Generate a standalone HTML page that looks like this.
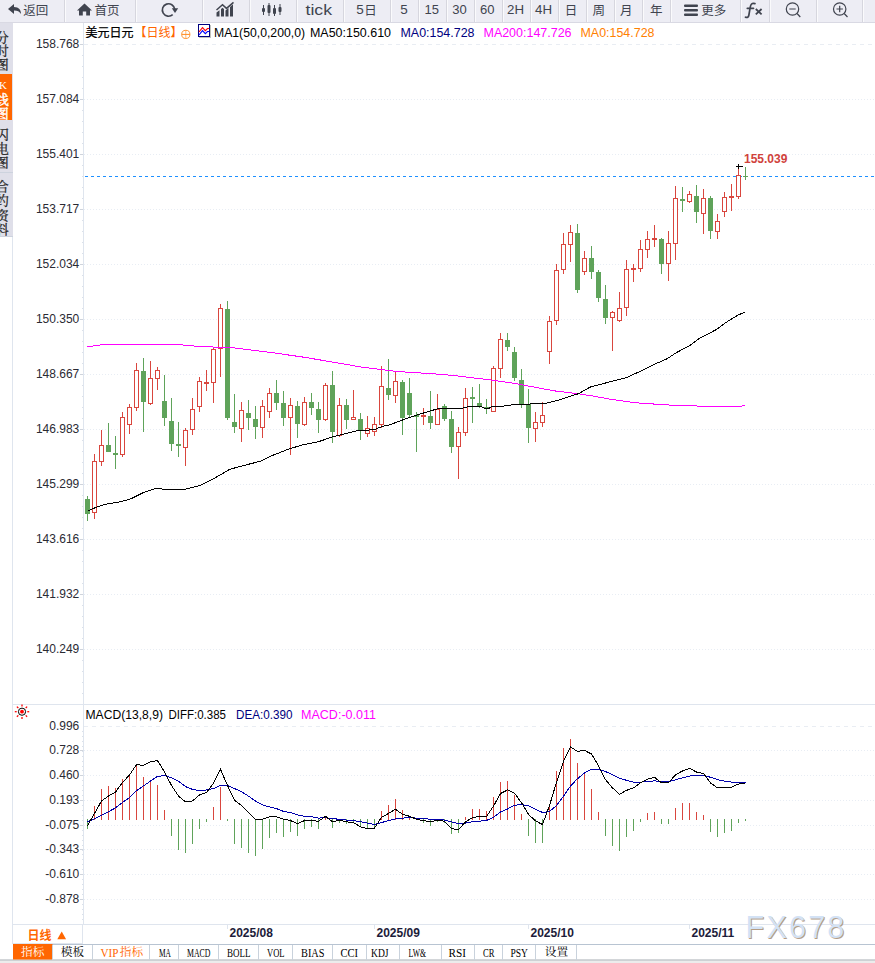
<!DOCTYPE html>
<html><head><meta charset="utf-8"><title>USDJPY</title>
<style>
html,body{margin:0;padding:0;background:#fff;}
body{width:875px;height:963px;overflow:hidden;font-family:"Liberation Sans",sans-serif;}
svg{display:block;position:absolute;left:0;top:0;}
text{font-family:"Liberation Sans",sans-serif;}
.ax{font-size:12px;fill:#2a2a33;}
.lg{font-size:12.5px;}
.hi{font-size:12px;font-weight:bold;fill:#d0423c;}
.dt{font-size:12px;font-weight:bold;fill:#1c1c3a;}
.wm{font-size:30.5px;letter-spacing:2.2px;}
.tb{font-family:"Liberation Serif",serif;font-size:13px;}
.kk{font-family:"Liberation Serif",serif;font-size:11px;}
.tl{font-family:"Liberation Sans",sans-serif;}
.cj{font-family:"Liberation Sans","Noto Sans CJK SC",sans-serif;}
.cs{font-family:"Liberation Serif","Noto Serif CJK SC",serif;}
</style></head>
<body>
<svg width="875" height="963" viewBox="0 0 875 963">
<defs><clipPath id="sbc"><rect x="0" y="22" width="12" height="215"/></clipPath></defs>
<line x1="84" x2="875" y1="44.5" y2="44.5" stroke="#e9edf3" stroke-dasharray="4 4" shape-rendering="crispEdges"/>
<text x="79.3" y="48" text-anchor="end" class="ax">158.768</text>
<line x1="84" x2="875" y1="99.5" y2="99.5" stroke="#e8edf4" stroke-dasharray="1 2" shape-rendering="crispEdges"/>
<text x="79.3" y="103" text-anchor="end" class="ax">157.084</text>
<line x1="84" x2="875" y1="154.5" y2="154.5" stroke="#e8edf4" stroke-dasharray="1 2" shape-rendering="crispEdges"/>
<text x="79.3" y="158" text-anchor="end" class="ax">155.401</text>
<line x1="84" x2="875" y1="209.5" y2="209.5" stroke="#e8edf4" stroke-dasharray="1 2" shape-rendering="crispEdges"/>
<text x="79.3" y="213" text-anchor="end" class="ax">153.717</text>
<line x1="84" x2="875" y1="264.5" y2="264.5" stroke="#e8edf4" stroke-dasharray="1 2" shape-rendering="crispEdges"/>
<text x="79.3" y="268" text-anchor="end" class="ax">152.034</text>
<line x1="84" x2="875" y1="319.5" y2="319.5" stroke="#e8edf4" stroke-dasharray="1 2" shape-rendering="crispEdges"/>
<text x="79.3" y="323" text-anchor="end" class="ax">150.350</text>
<line x1="84" x2="875" y1="374.5" y2="374.5" stroke="#e8edf4" stroke-dasharray="1 2" shape-rendering="crispEdges"/>
<text x="79.3" y="378" text-anchor="end" class="ax">148.667</text>
<line x1="84" x2="875" y1="429.5" y2="429.5" stroke="#e8edf4" stroke-dasharray="1 2" shape-rendering="crispEdges"/>
<text x="79.3" y="433" text-anchor="end" class="ax">146.983</text>
<line x1="84" x2="875" y1="484.5" y2="484.5" stroke="#e8edf4" stroke-dasharray="1 2" shape-rendering="crispEdges"/>
<text x="79.3" y="488" text-anchor="end" class="ax">145.299</text>
<line x1="84" x2="875" y1="539.5" y2="539.5" stroke="#e8edf4" stroke-dasharray="1 2" shape-rendering="crispEdges"/>
<text x="79.3" y="543" text-anchor="end" class="ax">143.616</text>
<line x1="84" x2="875" y1="594.5" y2="594.5" stroke="#e8edf4" stroke-dasharray="1 2" shape-rendering="crispEdges"/>
<text x="79.3" y="598" text-anchor="end" class="ax">141.932</text>
<line x1="84" x2="875" y1="649.5" y2="649.5" stroke="#e8edf4" stroke-dasharray="1 2" shape-rendering="crispEdges"/>
<text x="79.3" y="653" text-anchor="end" class="ax">140.249</text>
<line x1="80" x2="83" y1="44.5" y2="44.5" stroke="#cfd4dc" shape-rendering="crispEdges"/>
<line x1="82" x2="83" y1="55.5" y2="55.5" stroke="#dbe1ea" shape-rendering="crispEdges"/>
<line x1="82" x2="83" y1="66.5" y2="66.5" stroke="#dbe1ea" shape-rendering="crispEdges"/>
<line x1="82" x2="83" y1="77.5" y2="77.5" stroke="#dbe1ea" shape-rendering="crispEdges"/>
<line x1="82" x2="83" y1="88.5" y2="88.5" stroke="#dbe1ea" shape-rendering="crispEdges"/>
<line x1="80" x2="83" y1="99.5" y2="99.5" stroke="#cfd4dc" shape-rendering="crispEdges"/>
<line x1="82" x2="83" y1="110.5" y2="110.5" stroke="#dbe1ea" shape-rendering="crispEdges"/>
<line x1="82" x2="83" y1="121.5" y2="121.5" stroke="#dbe1ea" shape-rendering="crispEdges"/>
<line x1="82" x2="83" y1="132.5" y2="132.5" stroke="#dbe1ea" shape-rendering="crispEdges"/>
<line x1="82" x2="83" y1="143.5" y2="143.5" stroke="#dbe1ea" shape-rendering="crispEdges"/>
<line x1="80" x2="83" y1="154.5" y2="154.5" stroke="#cfd4dc" shape-rendering="crispEdges"/>
<line x1="82" x2="83" y1="165.5" y2="165.5" stroke="#dbe1ea" shape-rendering="crispEdges"/>
<line x1="82" x2="83" y1="176.5" y2="176.5" stroke="#dbe1ea" shape-rendering="crispEdges"/>
<line x1="82" x2="83" y1="187.5" y2="187.5" stroke="#dbe1ea" shape-rendering="crispEdges"/>
<line x1="82" x2="83" y1="198.5" y2="198.5" stroke="#dbe1ea" shape-rendering="crispEdges"/>
<line x1="80" x2="83" y1="209.5" y2="209.5" stroke="#cfd4dc" shape-rendering="crispEdges"/>
<line x1="82" x2="83" y1="220.5" y2="220.5" stroke="#dbe1ea" shape-rendering="crispEdges"/>
<line x1="82" x2="83" y1="231.5" y2="231.5" stroke="#dbe1ea" shape-rendering="crispEdges"/>
<line x1="82" x2="83" y1="242.5" y2="242.5" stroke="#dbe1ea" shape-rendering="crispEdges"/>
<line x1="82" x2="83" y1="253.5" y2="253.5" stroke="#dbe1ea" shape-rendering="crispEdges"/>
<line x1="80" x2="83" y1="264.5" y2="264.5" stroke="#cfd4dc" shape-rendering="crispEdges"/>
<line x1="82" x2="83" y1="275.5" y2="275.5" stroke="#dbe1ea" shape-rendering="crispEdges"/>
<line x1="82" x2="83" y1="286.5" y2="286.5" stroke="#dbe1ea" shape-rendering="crispEdges"/>
<line x1="82" x2="83" y1="297.5" y2="297.5" stroke="#dbe1ea" shape-rendering="crispEdges"/>
<line x1="82" x2="83" y1="308.5" y2="308.5" stroke="#dbe1ea" shape-rendering="crispEdges"/>
<line x1="80" x2="83" y1="319.5" y2="319.5" stroke="#cfd4dc" shape-rendering="crispEdges"/>
<line x1="82" x2="83" y1="330.5" y2="330.5" stroke="#dbe1ea" shape-rendering="crispEdges"/>
<line x1="82" x2="83" y1="341.5" y2="341.5" stroke="#dbe1ea" shape-rendering="crispEdges"/>
<line x1="82" x2="83" y1="352.5" y2="352.5" stroke="#dbe1ea" shape-rendering="crispEdges"/>
<line x1="82" x2="83" y1="363.5" y2="363.5" stroke="#dbe1ea" shape-rendering="crispEdges"/>
<line x1="80" x2="83" y1="374.5" y2="374.5" stroke="#cfd4dc" shape-rendering="crispEdges"/>
<line x1="82" x2="83" y1="385.5" y2="385.5" stroke="#dbe1ea" shape-rendering="crispEdges"/>
<line x1="82" x2="83" y1="396.5" y2="396.5" stroke="#dbe1ea" shape-rendering="crispEdges"/>
<line x1="82" x2="83" y1="407.5" y2="407.5" stroke="#dbe1ea" shape-rendering="crispEdges"/>
<line x1="82" x2="83" y1="418.5" y2="418.5" stroke="#dbe1ea" shape-rendering="crispEdges"/>
<line x1="80" x2="83" y1="429.5" y2="429.5" stroke="#cfd4dc" shape-rendering="crispEdges"/>
<line x1="82" x2="83" y1="440.5" y2="440.5" stroke="#dbe1ea" shape-rendering="crispEdges"/>
<line x1="82" x2="83" y1="451.5" y2="451.5" stroke="#dbe1ea" shape-rendering="crispEdges"/>
<line x1="82" x2="83" y1="462.5" y2="462.5" stroke="#dbe1ea" shape-rendering="crispEdges"/>
<line x1="82" x2="83" y1="473.5" y2="473.5" stroke="#dbe1ea" shape-rendering="crispEdges"/>
<line x1="80" x2="83" y1="484.5" y2="484.5" stroke="#cfd4dc" shape-rendering="crispEdges"/>
<line x1="82" x2="83" y1="495.5" y2="495.5" stroke="#dbe1ea" shape-rendering="crispEdges"/>
<line x1="82" x2="83" y1="506.5" y2="506.5" stroke="#dbe1ea" shape-rendering="crispEdges"/>
<line x1="82" x2="83" y1="517.5" y2="517.5" stroke="#dbe1ea" shape-rendering="crispEdges"/>
<line x1="82" x2="83" y1="528.5" y2="528.5" stroke="#dbe1ea" shape-rendering="crispEdges"/>
<line x1="80" x2="83" y1="539.5" y2="539.5" stroke="#cfd4dc" shape-rendering="crispEdges"/>
<line x1="82" x2="83" y1="550.5" y2="550.5" stroke="#dbe1ea" shape-rendering="crispEdges"/>
<line x1="82" x2="83" y1="561.5" y2="561.5" stroke="#dbe1ea" shape-rendering="crispEdges"/>
<line x1="82" x2="83" y1="572.5" y2="572.5" stroke="#dbe1ea" shape-rendering="crispEdges"/>
<line x1="82" x2="83" y1="583.5" y2="583.5" stroke="#dbe1ea" shape-rendering="crispEdges"/>
<line x1="80" x2="83" y1="594.5" y2="594.5" stroke="#cfd4dc" shape-rendering="crispEdges"/>
<line x1="82" x2="83" y1="605.5" y2="605.5" stroke="#dbe1ea" shape-rendering="crispEdges"/>
<line x1="82" x2="83" y1="616.5" y2="616.5" stroke="#dbe1ea" shape-rendering="crispEdges"/>
<line x1="82" x2="83" y1="627.5" y2="627.5" stroke="#dbe1ea" shape-rendering="crispEdges"/>
<line x1="82" x2="83" y1="638.5" y2="638.5" stroke="#dbe1ea" shape-rendering="crispEdges"/>
<line x1="80" x2="83" y1="649.5" y2="649.5" stroke="#cfd4dc" shape-rendering="crispEdges"/>
<line x1="82" x2="83" y1="660.5" y2="660.5" stroke="#dbe1ea" shape-rendering="crispEdges"/>
<line x1="82" x2="83" y1="671.5" y2="671.5" stroke="#dbe1ea" shape-rendering="crispEdges"/>
<line x1="82" x2="83" y1="682.5" y2="682.5" stroke="#dbe1ea" shape-rendering="crispEdges"/>
<line x1="82" x2="83" y1="693.5" y2="693.5" stroke="#dbe1ea" shape-rendering="crispEdges"/>
<line x1="83.5" x2="83.5" y1="23" y2="924" stroke="#dfe5ee" shape-rendering="crispEdges"/>
<line x1="12.5" x2="12.5" y1="23" y2="960" stroke="#dfe5ee" shape-rendering="crispEdges"/>
<line x1="13" x2="875" y1="704.5" y2="704.5" stroke="#dfe5ee" shape-rendering="crispEdges"/>
<line x1="13" x2="875" y1="924.5" y2="924.5" stroke="#dfe5ee" shape-rendering="crispEdges"/>
<line x1="84" x2="875" y1="726.5" y2="726.5" stroke="#e9edf3" stroke-dasharray="4 4" shape-rendering="crispEdges"/>
<text x="79.3" y="730" text-anchor="end" class="ax">0.996</text>
<line x1="84" x2="875" y1="750.5" y2="750.5" stroke="#e8edf4" stroke-dasharray="1 2" shape-rendering="crispEdges"/>
<text x="79.3" y="754" text-anchor="end" class="ax">0.728</text>
<line x1="80" x2="83" y1="750.5" y2="750.5" stroke="#cfd4dc" shape-rendering="crispEdges"/>
<line x1="84" x2="875" y1="775.5" y2="775.5" stroke="#e8edf4" stroke-dasharray="1 2" shape-rendering="crispEdges"/>
<text x="79.3" y="779" text-anchor="end" class="ax">0.460</text>
<line x1="80" x2="83" y1="775.5" y2="775.5" stroke="#cfd4dc" shape-rendering="crispEdges"/>
<line x1="84" x2="875" y1="800.5" y2="800.5" stroke="#e8edf4" stroke-dasharray="1 2" shape-rendering="crispEdges"/>
<text x="79.3" y="804" text-anchor="end" class="ax">0.193</text>
<line x1="80" x2="83" y1="800.5" y2="800.5" stroke="#cfd4dc" shape-rendering="crispEdges"/>
<line x1="84" x2="875" y1="825.5" y2="825.5" stroke="#e8edf4" stroke-dasharray="1 2" shape-rendering="crispEdges"/>
<text x="79.3" y="829" text-anchor="end" class="ax">-0.075</text>
<line x1="80" x2="83" y1="825.5" y2="825.5" stroke="#cfd4dc" shape-rendering="crispEdges"/>
<line x1="84" x2="875" y1="849.5" y2="849.5" stroke="#e8edf4" stroke-dasharray="1 2" shape-rendering="crispEdges"/>
<text x="79.3" y="853" text-anchor="end" class="ax">-0.343</text>
<line x1="80" x2="83" y1="849.5" y2="849.5" stroke="#cfd4dc" shape-rendering="crispEdges"/>
<line x1="84" x2="875" y1="874.5" y2="874.5" stroke="#e8edf4" stroke-dasharray="1 2" shape-rendering="crispEdges"/>
<text x="79.3" y="878" text-anchor="end" class="ax">-0.610</text>
<line x1="80" x2="83" y1="874.5" y2="874.5" stroke="#cfd4dc" shape-rendering="crispEdges"/>
<line x1="84" x2="875" y1="899.5" y2="899.5" stroke="#e8edf4" stroke-dasharray="1 2" shape-rendering="crispEdges"/>
<text x="79.3" y="903" text-anchor="end" class="ax">-0.878</text>
<line x1="80" x2="83" y1="899.5" y2="899.5" stroke="#cfd4dc" shape-rendering="crispEdges"/>
<rect x="82" y="731" width="1" height="1" fill="#dbe1ea"/>
<rect x="82" y="736" width="1" height="1" fill="#dbe1ea"/>
<rect x="82" y="741" width="1" height="1" fill="#dbe1ea"/>
<rect x="82" y="746" width="1" height="1" fill="#dbe1ea"/>
<rect x="82" y="751" width="1" height="1" fill="#dbe1ea"/>
<rect x="82" y="756" width="1" height="1" fill="#dbe1ea"/>
<rect x="82" y="761" width="1" height="1" fill="#dbe1ea"/>
<rect x="82" y="766" width="1" height="1" fill="#dbe1ea"/>
<rect x="82" y="770" width="1" height="1" fill="#dbe1ea"/>
<rect x="82" y="780" width="1" height="1" fill="#dbe1ea"/>
<rect x="82" y="785" width="1" height="1" fill="#dbe1ea"/>
<rect x="82" y="790" width="1" height="1" fill="#dbe1ea"/>
<rect x="82" y="795" width="1" height="1" fill="#dbe1ea"/>
<rect x="82" y="805" width="1" height="1" fill="#dbe1ea"/>
<rect x="82" y="810" width="1" height="1" fill="#dbe1ea"/>
<rect x="82" y="815" width="1" height="1" fill="#dbe1ea"/>
<rect x="82" y="820" width="1" height="1" fill="#dbe1ea"/>
<rect x="82" y="830" width="1" height="1" fill="#dbe1ea"/>
<rect x="82" y="835" width="1" height="1" fill="#dbe1ea"/>
<rect x="82" y="840" width="1" height="1" fill="#dbe1ea"/>
<rect x="82" y="845" width="1" height="1" fill="#dbe1ea"/>
<rect x="82" y="850" width="1" height="1" fill="#dbe1ea"/>
<rect x="82" y="854" width="1" height="1" fill="#dbe1ea"/>
<rect x="82" y="859" width="1" height="1" fill="#dbe1ea"/>
<rect x="82" y="864" width="1" height="1" fill="#dbe1ea"/>
<rect x="82" y="869" width="1" height="1" fill="#dbe1ea"/>
<rect x="82" y="879" width="1" height="1" fill="#dbe1ea"/>
<rect x="82" y="884" width="1" height="1" fill="#dbe1ea"/>
<rect x="82" y="889" width="1" height="1" fill="#dbe1ea"/>
<rect x="82" y="894" width="1" height="1" fill="#dbe1ea"/>
<rect x="82" y="904" width="1" height="1" fill="#dbe1ea"/>
<rect x="82" y="909" width="1" height="1" fill="#dbe1ea"/>
<rect x="82" y="914" width="1" height="1" fill="#dbe1ea"/>
<rect x="82" y="919" width="1" height="1" fill="#dbe1ea"/>
<line x1="85" x2="875" y1="176.5" y2="176.5" stroke="#1e90ff" stroke-dasharray="3 3" shape-rendering="crispEdges"/>
<rect x="87" y="496" width="1" height="25" fill="#5fa35a"/>
<rect x="85" y="499" width="5" height="15" fill="#5fa35a"/>
<rect x="94" y="454" width="1" height="7" fill="#d9463e"/>
<rect x="94" y="513" width="1" height="6" fill="#d9463e"/>
<rect x="92.5" y="461.5" width="4" height="51" fill="#fff" stroke="#d9463e"/>
<rect x="101" y="430" width="1" height="15" fill="#d9463e"/>
<rect x="101" y="462" width="1" height="4" fill="#d9463e"/>
<rect x="99.5" y="445.5" width="4" height="16" fill="#fff" stroke="#d9463e"/>
<rect x="108" y="423" width="1" height="29" fill="#5fa35a"/>
<rect x="106" y="445" width="5" height="7" fill="#5fa35a"/>
<rect x="115" y="436" width="1" height="33" fill="#5fa35a"/>
<rect x="113" y="453" width="5" height="2" fill="#5fa35a"/>
<rect x="122" y="412" width="1" height="5" fill="#d9463e"/>
<rect x="122" y="455" width="1" height="2" fill="#d9463e"/>
<rect x="120.5" y="417.5" width="4" height="37" fill="#fff" stroke="#d9463e"/>
<rect x="129" y="404" width="1" height="3" fill="#d9463e"/>
<rect x="129" y="425" width="1" height="9" fill="#d9463e"/>
<rect x="127.5" y="407.5" width="4" height="17" fill="#fff" stroke="#d9463e"/>
<rect x="136" y="363" width="1" height="7" fill="#d9463e"/>
<rect x="136" y="408" width="1" height="3" fill="#d9463e"/>
<rect x="134.5" y="370.5" width="4" height="37" fill="#fff" stroke="#d9463e"/>
<rect x="143" y="358" width="1" height="74" fill="#5fa35a"/>
<rect x="141" y="371" width="5" height="31" fill="#5fa35a"/>
<rect x="150" y="361" width="1" height="17" fill="#d9463e"/>
<rect x="150" y="404" width="1" height="1" fill="#d9463e"/>
<rect x="148.5" y="378.5" width="4" height="25" fill="#fff" stroke="#d9463e"/>
<rect x="157" y="367" width="1" height="3" fill="#d9463e"/>
<rect x="157" y="379" width="1" height="11" fill="#d9463e"/>
<rect x="155.5" y="370.5" width="4" height="8" fill="#fff" stroke="#d9463e"/>
<rect x="164" y="375" width="1" height="51" fill="#5fa35a"/>
<rect x="162" y="401" width="5" height="17" fill="#5fa35a"/>
<rect x="171" y="398" width="1" height="53" fill="#5fa35a"/>
<rect x="169" y="421" width="5" height="23" fill="#5fa35a"/>
<rect x="178" y="422" width="1" height="35" fill="#5fa35a"/>
<rect x="176" y="444" width="5" height="2" fill="#5fa35a"/>
<rect x="185" y="428" width="1" height="2" fill="#d9463e"/>
<rect x="185" y="448" width="1" height="18" fill="#d9463e"/>
<rect x="183.5" y="430.5" width="4" height="17" fill="#fff" stroke="#d9463e"/>
<rect x="192" y="398" width="1" height="11" fill="#d9463e"/>
<rect x="192" y="430" width="1" height="5" fill="#d9463e"/>
<rect x="190.5" y="409.5" width="4" height="20" fill="#fff" stroke="#d9463e"/>
<rect x="199" y="377" width="1" height="4" fill="#d9463e"/>
<rect x="199" y="407" width="1" height="5" fill="#d9463e"/>
<rect x="197.5" y="381.5" width="4" height="25" fill="#fff" stroke="#d9463e"/>
<rect x="206" y="370" width="1" height="21" fill="#d9463e"/>
<rect x="204" y="382" width="5" height="2" fill="#d9463e"/>
<rect x="213" y="347" width="1" height="2" fill="#d9463e"/>
<rect x="213" y="383" width="1" height="20" fill="#d9463e"/>
<rect x="211.5" y="349.5" width="4" height="33" fill="#fff" stroke="#d9463e"/>
<rect x="220" y="304" width="1" height="4" fill="#d9463e"/>
<rect x="220" y="349" width="1" height="28" fill="#d9463e"/>
<rect x="218.5" y="308.5" width="4" height="40" fill="#fff" stroke="#d9463e"/>
<rect x="227" y="301" width="1" height="119" fill="#5fa35a"/>
<rect x="225" y="309" width="5" height="109" fill="#5fa35a"/>
<rect x="234" y="394" width="1" height="39" fill="#5fa35a"/>
<rect x="232" y="422" width="5" height="5" fill="#5fa35a"/>
<rect x="241" y="402" width="1" height="8" fill="#d9463e"/>
<rect x="241" y="429" width="1" height="13" fill="#d9463e"/>
<rect x="239.5" y="410.5" width="4" height="18" fill="#fff" stroke="#d9463e"/>
<rect x="248" y="400" width="1" height="30" fill="#5fa35a"/>
<rect x="246" y="413" width="5" height="5" fill="#5fa35a"/>
<rect x="255" y="406" width="1" height="33" fill="#5fa35a"/>
<rect x="253" y="419" width="5" height="8" fill="#5fa35a"/>
<rect x="262" y="400" width="1" height="6" fill="#d9463e"/>
<rect x="262" y="428" width="1" height="10" fill="#d9463e"/>
<rect x="260.5" y="406.5" width="4" height="21" fill="#fff" stroke="#d9463e"/>
<rect x="269" y="388" width="1" height="5" fill="#d9463e"/>
<rect x="269" y="412" width="1" height="6" fill="#d9463e"/>
<rect x="267.5" y="393.5" width="4" height="18" fill="#fff" stroke="#d9463e"/>
<rect x="276" y="380" width="1" height="30" fill="#5fa35a"/>
<rect x="274" y="393" width="5" height="10" fill="#5fa35a"/>
<rect x="283" y="391" width="1" height="35" fill="#5fa35a"/>
<rect x="281" y="403" width="5" height="15" fill="#5fa35a"/>
<rect x="290" y="398" width="1" height="7" fill="#d9463e"/>
<rect x="290" y="418" width="1" height="37" fill="#d9463e"/>
<rect x="288.5" y="405.5" width="4" height="12" fill="#fff" stroke="#d9463e"/>
<rect x="297" y="401" width="1" height="37" fill="#5fa35a"/>
<rect x="295" y="406" width="5" height="18" fill="#5fa35a"/>
<rect x="304" y="397" width="1" height="5" fill="#d9463e"/>
<rect x="304" y="425" width="1" height="1" fill="#d9463e"/>
<rect x="302.5" y="402.5" width="4" height="22" fill="#fff" stroke="#d9463e"/>
<rect x="311" y="393" width="1" height="22" fill="#5fa35a"/>
<rect x="309" y="402" width="5" height="6" fill="#5fa35a"/>
<rect x="318" y="402" width="1" height="31" fill="#5fa35a"/>
<rect x="316" y="409" width="5" height="11" fill="#5fa35a"/>
<rect x="325" y="383" width="1" height="2" fill="#d9463e"/>
<rect x="325" y="420" width="1" height="1" fill="#d9463e"/>
<rect x="323.5" y="385.5" width="4" height="34" fill="#fff" stroke="#d9463e"/>
<rect x="332" y="371" width="1" height="72" fill="#5fa35a"/>
<rect x="330" y="385" width="5" height="47" fill="#5fa35a"/>
<rect x="339" y="398" width="1" height="7" fill="#d9463e"/>
<rect x="339" y="436" width="1" height="1" fill="#d9463e"/>
<rect x="337.5" y="405.5" width="4" height="30" fill="#fff" stroke="#d9463e"/>
<rect x="346" y="399" width="1" height="30" fill="#5fa35a"/>
<rect x="344" y="405" width="5" height="15" fill="#5fa35a"/>
<rect x="353" y="390" width="1" height="27" fill="#d9463e"/>
<rect x="351.5" y="417.5" width="4" height="2" fill="#fff" stroke="#d9463e"/>
<rect x="360" y="413" width="1" height="27" fill="#5fa35a"/>
<rect x="358" y="419" width="5" height="12" fill="#5fa35a"/>
<rect x="367" y="416" width="1" height="12" fill="#d9463e"/>
<rect x="367" y="434" width="1" height="3" fill="#d9463e"/>
<rect x="365.5" y="428.5" width="4" height="5" fill="#fff" stroke="#d9463e"/>
<rect x="374" y="417" width="1" height="7" fill="#d9463e"/>
<rect x="374" y="432" width="1" height="4" fill="#d9463e"/>
<rect x="372.5" y="424.5" width="4" height="7" fill="#fff" stroke="#d9463e"/>
<rect x="381" y="366" width="1" height="20" fill="#d9463e"/>
<rect x="381" y="425" width="1" height="3" fill="#d9463e"/>
<rect x="379.5" y="386.5" width="4" height="38" fill="#fff" stroke="#d9463e"/>
<rect x="388" y="359" width="1" height="41" fill="#5fa35a"/>
<rect x="386" y="388" width="5" height="7" fill="#5fa35a"/>
<rect x="395" y="372" width="1" height="9" fill="#d9463e"/>
<rect x="395" y="396" width="1" height="7" fill="#d9463e"/>
<rect x="393.5" y="381.5" width="4" height="14" fill="#fff" stroke="#d9463e"/>
<rect x="402" y="380" width="1" height="55" fill="#5fa35a"/>
<rect x="400" y="382" width="5" height="36" fill="#5fa35a"/>
<rect x="409" y="378" width="1" height="40" fill="#5fa35a"/>
<rect x="407" y="393" width="5" height="22" fill="#5fa35a"/>
<rect x="416" y="412" width="1" height="40" fill="#5fa35a"/>
<rect x="414" y="415" width="5" height="2" fill="#5fa35a"/>
<rect x="423" y="408" width="1" height="17" fill="#d9463e"/>
<rect x="421" y="415" width="5" height="2" fill="#d9463e"/>
<rect x="430" y="391" width="1" height="38" fill="#5fa35a"/>
<rect x="428" y="416" width="5" height="7" fill="#5fa35a"/>
<rect x="437" y="394" width="1" height="15" fill="#d9463e"/>
<rect x="435.5" y="409.5" width="4" height="15" fill="#fff" stroke="#d9463e"/>
<rect x="444" y="404" width="1" height="17" fill="#5fa35a"/>
<rect x="442" y="406" width="5" height="13" fill="#5fa35a"/>
<rect x="451" y="411" width="1" height="42" fill="#5fa35a"/>
<rect x="449" y="419" width="5" height="28" fill="#5fa35a"/>
<rect x="458" y="427" width="1" height="5" fill="#d9463e"/>
<rect x="458" y="447" width="1" height="32" fill="#d9463e"/>
<rect x="456.5" y="432.5" width="4" height="14" fill="#fff" stroke="#d9463e"/>
<rect x="465" y="388" width="1" height="10" fill="#d9463e"/>
<rect x="465" y="433" width="1" height="3" fill="#d9463e"/>
<rect x="463.5" y="398.5" width="4" height="34" fill="#fff" stroke="#d9463e"/>
<rect x="472" y="387" width="1" height="36" fill="#5fa35a"/>
<rect x="470" y="397" width="5" height="2" fill="#5fa35a"/>
<rect x="479" y="384" width="1" height="24" fill="#5fa35a"/>
<rect x="477" y="403" width="5" height="3" fill="#5fa35a"/>
<rect x="486" y="399" width="1" height="15" fill="#5fa35a"/>
<rect x="484" y="407" width="5" height="2" fill="#5fa35a"/>
<rect x="493" y="366" width="1" height="2" fill="#d9463e"/>
<rect x="491.5" y="368.5" width="4" height="43" fill="#fff" stroke="#d9463e"/>
<rect x="500" y="333" width="1" height="6" fill="#d9463e"/>
<rect x="500" y="369" width="1" height="9" fill="#d9463e"/>
<rect x="498.5" y="339.5" width="4" height="29" fill="#fff" stroke="#d9463e"/>
<rect x="507" y="333" width="1" height="18" fill="#5fa35a"/>
<rect x="505" y="340" width="5" height="7" fill="#5fa35a"/>
<rect x="514" y="347" width="1" height="34" fill="#5fa35a"/>
<rect x="512" y="352" width="5" height="26" fill="#5fa35a"/>
<rect x="521" y="369" width="1" height="39" fill="#5fa35a"/>
<rect x="519" y="380" width="5" height="24" fill="#5fa35a"/>
<rect x="528" y="389" width="1" height="54" fill="#5fa35a"/>
<rect x="526" y="404" width="5" height="24" fill="#5fa35a"/>
<rect x="535" y="412" width="1" height="10" fill="#d9463e"/>
<rect x="535" y="429" width="1" height="13" fill="#d9463e"/>
<rect x="533.5" y="422.5" width="4" height="6" fill="#fff" stroke="#d9463e"/>
<rect x="542" y="402" width="1" height="13" fill="#d9463e"/>
<rect x="542" y="423" width="1" height="4" fill="#d9463e"/>
<rect x="540.5" y="415.5" width="4" height="7" fill="#fff" stroke="#d9463e"/>
<rect x="549" y="316" width="1" height="5" fill="#d9463e"/>
<rect x="549" y="352" width="1" height="12" fill="#d9463e"/>
<rect x="547.5" y="321.5" width="4" height="30" fill="#fff" stroke="#d9463e"/>
<rect x="556" y="264" width="1" height="6" fill="#d9463e"/>
<rect x="556" y="321" width="1" height="4" fill="#d9463e"/>
<rect x="554.5" y="270.5" width="4" height="50" fill="#fff" stroke="#d9463e"/>
<rect x="563" y="233" width="1" height="11" fill="#d9463e"/>
<rect x="563" y="270" width="1" height="4" fill="#d9463e"/>
<rect x="561.5" y="244.5" width="4" height="25" fill="#fff" stroke="#d9463e"/>
<rect x="570" y="225" width="1" height="7" fill="#d9463e"/>
<rect x="570" y="245" width="1" height="17" fill="#d9463e"/>
<rect x="568.5" y="232.5" width="4" height="12" fill="#fff" stroke="#d9463e"/>
<rect x="577" y="224" width="1" height="69" fill="#5fa35a"/>
<rect x="575" y="233" width="5" height="57" fill="#5fa35a"/>
<rect x="584" y="251" width="1" height="7" fill="#d9463e"/>
<rect x="584" y="272" width="1" height="3" fill="#d9463e"/>
<rect x="582.5" y="258.5" width="4" height="13" fill="#fff" stroke="#d9463e"/>
<rect x="591" y="246" width="1" height="33" fill="#5fa35a"/>
<rect x="589" y="258" width="5" height="14" fill="#5fa35a"/>
<rect x="598" y="270" width="1" height="32" fill="#5fa35a"/>
<rect x="596" y="272" width="5" height="26" fill="#5fa35a"/>
<rect x="605" y="285" width="1" height="39" fill="#5fa35a"/>
<rect x="603" y="299" width="5" height="19" fill="#5fa35a"/>
<rect x="612" y="311" width="1" height="1" fill="#d9463e"/>
<rect x="612" y="318" width="1" height="33" fill="#d9463e"/>
<rect x="610.5" y="312.5" width="4" height="5" fill="#fff" stroke="#d9463e"/>
<rect x="619" y="292" width="1" height="16" fill="#d9463e"/>
<rect x="619" y="321" width="1" height="1" fill="#d9463e"/>
<rect x="617.5" y="308.5" width="4" height="12" fill="#fff" stroke="#d9463e"/>
<rect x="626" y="260" width="1" height="9" fill="#d9463e"/>
<rect x="626" y="308" width="1" height="8" fill="#d9463e"/>
<rect x="624.5" y="269.5" width="4" height="38" fill="#fff" stroke="#d9463e"/>
<rect x="633" y="264" width="1" height="18" fill="#d9463e"/>
<rect x="631" y="268" width="5" height="2" fill="#d9463e"/>
<rect x="640" y="240" width="1" height="9" fill="#d9463e"/>
<rect x="640" y="269" width="1" height="3" fill="#d9463e"/>
<rect x="638.5" y="249.5" width="4" height="19" fill="#fff" stroke="#d9463e"/>
<rect x="647" y="231" width="1" height="8" fill="#d9463e"/>
<rect x="647" y="250" width="1" height="8" fill="#d9463e"/>
<rect x="645.5" y="239.5" width="4" height="10" fill="#fff" stroke="#d9463e"/>
<rect x="654" y="225" width="1" height="22" fill="#d9463e"/>
<rect x="652" y="238" width="5" height="2" fill="#d9463e"/>
<rect x="661" y="238" width="1" height="36" fill="#5fa35a"/>
<rect x="659" y="239" width="5" height="25" fill="#5fa35a"/>
<rect x="668" y="231" width="1" height="12" fill="#d9463e"/>
<rect x="668" y="264" width="1" height="17" fill="#d9463e"/>
<rect x="666.5" y="243.5" width="4" height="20" fill="#fff" stroke="#d9463e"/>
<rect x="675" y="186" width="1" height="12" fill="#d9463e"/>
<rect x="675" y="244" width="1" height="16" fill="#d9463e"/>
<rect x="673.5" y="198.5" width="4" height="45" fill="#fff" stroke="#d9463e"/>
<rect x="682" y="187" width="1" height="25" fill="#5fa35a"/>
<rect x="680" y="199" width="5" height="2" fill="#5fa35a"/>
<rect x="689" y="191" width="1" height="3" fill="#d9463e"/>
<rect x="689" y="202" width="1" height="1" fill="#d9463e"/>
<rect x="687.5" y="194.5" width="4" height="7" fill="#fff" stroke="#d9463e"/>
<rect x="696" y="185" width="1" height="38" fill="#5fa35a"/>
<rect x="694" y="196" width="5" height="16" fill="#5fa35a"/>
<rect x="703" y="189" width="1" height="9" fill="#d9463e"/>
<rect x="703" y="214" width="1" height="20" fill="#d9463e"/>
<rect x="701.5" y="198.5" width="4" height="15" fill="#fff" stroke="#d9463e"/>
<rect x="710" y="196" width="1" height="43" fill="#5fa35a"/>
<rect x="708" y="198" width="5" height="33" fill="#5fa35a"/>
<rect x="717" y="214" width="1" height="7" fill="#d9463e"/>
<rect x="717" y="232" width="1" height="7" fill="#d9463e"/>
<rect x="715.5" y="221.5" width="4" height="10" fill="#fff" stroke="#d9463e"/>
<rect x="724" y="192" width="1" height="5" fill="#d9463e"/>
<rect x="724" y="212" width="1" height="5" fill="#d9463e"/>
<rect x="722.5" y="197.5" width="4" height="14" fill="#fff" stroke="#d9463e"/>
<rect x="731" y="184" width="1" height="27" fill="#d9463e"/>
<rect x="729" y="196" width="5" height="2" fill="#d9463e"/>
<rect x="738" y="167" width="1" height="8" fill="#d9463e"/>
<rect x="738" y="197" width="1" height="2" fill="#d9463e"/>
<rect x="736.5" y="175.5" width="4" height="21" fill="#fff" stroke="#d9463e"/>
<rect x="745" y="167" width="1" height="13" fill="#5fa35a"/>
<rect x="743" y="176" width="5" height="1" fill="#5fa35a"/>
<polyline points="87.5,346.8 104.9,344.3 174.7,344.3 197.1,346.3 219.6,347.3 230.0,347.4 251.9,350.1 273.9,352.9 303.1,357.1 332.4,362.0 361.7,367.1 380.0,369.4 398.3,371.6 434.9,373.9 453.1,375.4 475.1,378.1 493.4,380.3 515.3,383.5 538.3,387.9 556.6,391.2 578.5,393.7 593.1,396.1 611.4,399.4 633.4,402.5 643.7,403.4 658.3,404.3 672.0,405.2 700.3,406.1 741.5,406.1 744.8,405.2" fill="none" stroke="#ff00ff" stroke-width="1" shape-rendering="crispEdges"/>
<polyline points="87.5,511.3 94.5,508.0 104.9,504.3 117.4,502.3 129.8,499.3 142.3,493.1 154.8,488.6 159.8,488.6 164.7,489.4 184.7,489.4 199.6,485.6 214.6,478.2 229.5,469.4 241.0,466.2 260.2,461.3 272.0,455.6 290.3,448.5 303.1,444.8 317.8,441.9 332.4,437.0 347.0,433.3 358.0,430.6 374.5,429.7 381.8,426.5 389.1,425.1 401.9,420.2 416.6,415.1 434.9,409.6 440.0,408.3 462.0,408.3 469.0,406.6 481.5,406.6 484.0,408.0 489.5,408.0 491.5,406.8 503.0,406.8 505.0,405.3 510.6,405.3 512.0,404.4 520.0,404.4 545.6,403.4 556.6,400.7 578.5,393.7 590.4,387.0 607.8,382.4 626.1,377.8 640.0,371.4 653.7,364.6 667.4,358.6 676.6,352.5 689.4,345.8 698.5,339.0 716.8,329.3 725.9,322.5 738.7,314.7 744.8,312.3" fill="none" stroke="#000" stroke-width="1" shape-rendering="crispEdges"/>
<path d="M735.5 166.5h7M738.5 164v5" stroke="#000" fill="none" shape-rendering="crispEdges"/>
<text x="744" y="163" class="hi">155.039</text>
<rect x="87" y="819" width="1" height="10" fill="#5fa35a"/>
<rect x="94" y="806" width="1" height="14" fill="#d9463e"/>
<rect x="101" y="789" width="1" height="31" fill="#d9463e"/>
<rect x="108" y="786" width="1" height="34" fill="#d9463e"/>
<rect x="115" y="788" width="1" height="32" fill="#d9463e"/>
<rect x="122" y="779" width="1" height="41" fill="#d9463e"/>
<rect x="129" y="776" width="1" height="44" fill="#d9463e"/>
<rect x="136" y="765" width="1" height="55" fill="#d9463e"/>
<rect x="143" y="777" width="1" height="43" fill="#d9463e"/>
<rect x="150" y="781" width="1" height="39" fill="#d9463e"/>
<rect x="157" y="785" width="1" height="35" fill="#d9463e"/>
<rect x="164" y="810" width="1" height="10" fill="#d9463e"/>
<rect x="171" y="819" width="1" height="17" fill="#5fa35a"/>
<rect x="178" y="819" width="1" height="31" fill="#5fa35a"/>
<rect x="185" y="819" width="1" height="34" fill="#5fa35a"/>
<rect x="192" y="819" width="1" height="25" fill="#5fa35a"/>
<rect x="199" y="819" width="1" height="10" fill="#5fa35a"/>
<rect x="206" y="819" width="1" height="3" fill="#5fa35a"/>
<rect x="213" y="807" width="1" height="13" fill="#d9463e"/>
<rect x="220" y="787" width="1" height="33" fill="#d9463e"/>
<rect x="227" y="819" width="1" height="2" fill="#5fa35a"/>
<rect x="234" y="819" width="1" height="25" fill="#5fa35a"/>
<rect x="241" y="819" width="1" height="29" fill="#5fa35a"/>
<rect x="248" y="819" width="1" height="34" fill="#5fa35a"/>
<rect x="255" y="819" width="1" height="37" fill="#5fa35a"/>
<rect x="262" y="819" width="1" height="30" fill="#5fa35a"/>
<rect x="269" y="819" width="1" height="19" fill="#5fa35a"/>
<rect x="276" y="819" width="1" height="14" fill="#5fa35a"/>
<rect x="283" y="819" width="1" height="18" fill="#5fa35a"/>
<rect x="290" y="819" width="1" height="13" fill="#5fa35a"/>
<rect x="297" y="819" width="1" height="17" fill="#5fa35a"/>
<rect x="304" y="819" width="1" height="10" fill="#5fa35a"/>
<rect x="311" y="819" width="1" height="8" fill="#5fa35a"/>
<rect x="318" y="819" width="1" height="10" fill="#5fa35a"/>
<rect x="325" y="816" width="1" height="4" fill="#d9463e"/>
<rect x="332" y="819" width="1" height="9" fill="#5fa35a"/>
<rect x="339" y="819" width="1" height="4" fill="#5fa35a"/>
<rect x="346" y="819" width="1" height="5" fill="#5fa35a"/>
<rect x="353" y="819" width="1" height="4" fill="#5fa35a"/>
<rect x="360" y="819" width="1" height="8" fill="#5fa35a"/>
<rect x="367" y="819" width="1" height="10" fill="#5fa35a"/>
<rect x="374" y="819" width="1" height="8" fill="#5fa35a"/>
<rect x="381" y="811" width="1" height="9" fill="#d9463e"/>
<rect x="388" y="805" width="1" height="15" fill="#d9463e"/>
<rect x="395" y="799" width="1" height="21" fill="#d9463e"/>
<rect x="402" y="810" width="1" height="10" fill="#d9463e"/>
<rect x="409" y="816" width="1" height="4" fill="#d9463e"/>
<rect x="416" y="819" width="1" height="1" fill="#5fa35a"/>
<rect x="423" y="819" width="1" height="4" fill="#5fa35a"/>
<rect x="430" y="819" width="1" height="7" fill="#5fa35a"/>
<rect x="437" y="819" width="1" height="3" fill="#5fa35a"/>
<rect x="444" y="819" width="1" height="4" fill="#5fa35a"/>
<rect x="451" y="819" width="1" height="15" fill="#5fa35a"/>
<rect x="458" y="819" width="1" height="14" fill="#5fa35a"/>
<rect x="465" y="817" width="1" height="3" fill="#d9463e"/>
<rect x="472" y="809" width="1" height="11" fill="#d9463e"/>
<rect x="479" y="809" width="1" height="11" fill="#d9463e"/>
<rect x="486" y="811" width="1" height="9" fill="#d9463e"/>
<rect x="493" y="797" width="1" height="23" fill="#d9463e"/>
<rect x="500" y="782" width="1" height="38" fill="#d9463e"/>
<rect x="507" y="781" width="1" height="39" fill="#d9463e"/>
<rect x="514" y="795" width="1" height="25" fill="#d9463e"/>
<rect x="521" y="814" width="1" height="6" fill="#d9463e"/>
<rect x="528" y="819" width="1" height="17" fill="#5fa35a"/>
<rect x="535" y="819" width="1" height="24" fill="#5fa35a"/>
<rect x="542" y="819" width="1" height="24" fill="#5fa35a"/>
<rect x="549" y="807" width="1" height="13" fill="#d9463e"/>
<rect x="556" y="771" width="1" height="49" fill="#d9463e"/>
<rect x="563" y="748" width="1" height="72" fill="#d9463e"/>
<rect x="570" y="739" width="1" height="81" fill="#d9463e"/>
<rect x="577" y="763" width="1" height="57" fill="#d9463e"/>
<rect x="584" y="772" width="1" height="48" fill="#d9463e"/>
<rect x="591" y="789" width="1" height="31" fill="#d9463e"/>
<rect x="598" y="812" width="1" height="8" fill="#d9463e"/>
<rect x="605" y="819" width="1" height="17" fill="#5fa35a"/>
<rect x="612" y="819" width="1" height="27" fill="#5fa35a"/>
<rect x="619" y="819" width="1" height="32" fill="#5fa35a"/>
<rect x="626" y="819" width="1" height="18" fill="#5fa35a"/>
<rect x="633" y="819" width="1" height="12" fill="#5fa35a"/>
<rect x="640" y="819" width="1" height="3" fill="#5fa35a"/>
<rect x="647" y="813" width="1" height="7" fill="#d9463e"/>
<rect x="654" y="812" width="1" height="8" fill="#d9463e"/>
<rect x="661" y="819" width="1" height="5" fill="#5fa35a"/>
<rect x="668" y="819" width="1" height="5" fill="#5fa35a"/>
<rect x="675" y="808" width="1" height="12" fill="#d9463e"/>
<rect x="682" y="803" width="1" height="17" fill="#d9463e"/>
<rect x="689" y="803" width="1" height="17" fill="#d9463e"/>
<rect x="696" y="812" width="1" height="8" fill="#d9463e"/>
<rect x="703" y="815" width="1" height="5" fill="#d9463e"/>
<rect x="710" y="819" width="1" height="13" fill="#5fa35a"/>
<rect x="717" y="819" width="1" height="18" fill="#5fa35a"/>
<rect x="724" y="819" width="1" height="14" fill="#5fa35a"/>
<rect x="731" y="819" width="1" height="12" fill="#5fa35a"/>
<rect x="738" y="819" width="1" height="4" fill="#5fa35a"/>
<rect x="745" y="819" width="1" height="2" fill="#5fa35a"/>
<polyline points="87.5,821.6 94.5,818.9 101.5,815.2 108.5,811.7 115.5,807.9 122.5,802.4 129.5,797.6 136.5,790.7 143.5,785.9 150.5,781.1 157.5,776.3 164.5,775.7 171.5,777.7 178.5,781.1 185.5,786.6 192.5,789.4 199.5,790.5 206.5,790.0 213.5,788.5 220.5,785.5 227.5,785.5 234.5,788.5 241.5,791.8 248.5,796.1 255.5,801.1 262.5,804.9 269.5,806.9 276.5,808.6 283.5,811.4 290.5,812.5 297.5,815.0 304.5,816.3 311.5,816.8 318.5,818.1 325.5,817.6 332.5,818.6 339.5,819.3 346.5,820.1 353.5,820.6 360.5,821.8 367.5,823.1 374.5,824.4 381.5,822.6 388.5,820.6 395.5,818.8 402.5,818.1 409.5,817.6 416.5,818.1 423.5,818.6 430.5,819.3 437.5,819.3 444.5,820.1 451.5,821.8 458.5,823.6 465.5,823.1 472.5,821.8 479.5,821.1 486.5,820.5 493.5,817.3 500.5,811.9 507.5,809.0 514.5,805.3 521.5,804.5 528.5,805.9 535.5,809.3 542.5,812.5 549.5,811.5 556.5,805.6 563.5,796.2 570.5,786.0 577.5,778.7 584.5,772.9 591.5,769.3 598.5,769.3 605.5,771.5 612.5,774.8 619.5,778.3 626.5,780.3 633.5,782.1 640.5,782.1 647.5,781.6 654.5,780.8 661.5,781.6 668.5,781.6 675.5,779.8 682.5,777.8 689.5,776.1 696.5,775.3 703.5,775.3 710.5,777.3 717.5,779.6 724.5,781.1 731.5,782.1 738.5,782.4 745.5,782.4" fill="none" stroke="#0000aa" stroke-width="1" shape-rendering="crispEdges"/>
<polyline points="87.5,825.7 94.5,813.4 101.5,801.0 108.5,796.0 115.5,792.1 122.5,782.5 129.5,775.0 136.5,764.7 143.5,765.4 150.5,761.9 157.5,760.6 164.5,771.8 171.5,785.5 178.5,796.0 185.5,802.0 192.5,801.0 199.5,794.9 206.5,792.5 213.5,783.0 220.5,769.4 227.5,785.5 234.5,800.1 241.5,805.6 248.5,812.4 255.5,819.2 262.5,819.2 269.5,816.7 276.5,816.7 283.5,819.2 290.5,820.6 297.5,823.6 304.5,820.6 311.5,820.6 318.5,821.3 325.5,816.3 332.5,821.8 339.5,820.1 346.5,821.8 353.5,822.6 360.5,826.9 367.5,828.6 374.5,828.1 381.5,817.3 388.5,813.5 395.5,809.3 402.5,814.3 409.5,816.3 416.5,819.3 423.5,820.6 430.5,821.8 437.5,820.1 444.5,821.3 451.5,828.6 458.5,829.9 465.5,821.8 472.5,817.6 479.5,816.3 486.5,816.5 493.5,806.1 500.5,793.6 507.5,789.9 514.5,793.3 521.5,802.7 528.5,814.4 535.5,820.9 542.5,824.5 549.5,805.4 556.5,782.4 563.5,761.3 570.5,747.0 577.5,751.4 584.5,750.4 591.5,754.0 598.5,765.7 605.5,779.6 612.5,787.9 619.5,794.2 626.5,790.4 633.5,787.9 640.5,782.9 647.5,779.1 654.5,777.3 661.5,782.9 668.5,782.9 675.5,774.8 682.5,771.0 689.5,768.3 696.5,772.0 703.5,773.6 710.5,782.9 717.5,787.9 724.5,787.4 731.5,787.1 738.5,784.1 745.5,782.9" fill="none" stroke="#000" stroke-width="1" shape-rendering="crispEdges"/>
<text x="85.5" y="36.8" class="cj" font-size="12" fill="#000" stroke="#000" stroke-width="0.25">美元日元</text>
<text x="134.5" y="36.8" class="cj" font-size="12" fill="#ff6600">【日线】</text>
<g stroke="#ff8a1f" fill="none"><circle cx="185.800" cy="34.400" r="4.100" stroke-width=".9"/><path d="M181.700 34.400h8.200" stroke-width="1"/><path d="M185.800 30.300v8.200" stroke-width=".6"/></g>
<g fill="none"><rect x="199.5" y="25.500" width="11" height="12" stroke="#9a9a90" stroke-width="1" opacity=".6"/><rect x="198.500" y="24.500" width="11" height="12" fill="#fff" stroke="#000080"/><path d="M199 32l3.500-4.300 2.800 3 2.200-2.200h1.500" stroke="#ff0000" stroke-width="1.100"/><path d="M199 35l3.500-4.300 2.800 3 2.200-2.200h1.500" stroke="#0000ff" stroke-width="1.100"/></g>
<text x="214" y="36.8" textLength="91" lengthAdjust="spacingAndGlyphs" class="lg" fill="#000">MA1(50,0,200,0)</text>
<text x="310" y="36.8" textLength="81" lengthAdjust="spacingAndGlyphs" class="lg" fill="#000">MA50:150.610</text>
<text x="400.5" y="36.8" textLength="74" lengthAdjust="spacingAndGlyphs" class="lg" fill="#000080">MA0:154.728</text>
<text x="483.5" y="36.8" textLength="88" lengthAdjust="spacingAndGlyphs" class="lg" fill="#ff00ff">MA200:147.726</text>
<text x="580.5" y="36.8" textLength="74" lengthAdjust="spacingAndGlyphs" class="lg" fill="#ff8000">MA0:154.728</text>
<text x="85.5" y="719" textLength="77.5" lengthAdjust="spacingAndGlyphs" class="lg" fill="#000">MACD(13,8,9)</text>
<text x="168.5" y="719" textLength="57.5" lengthAdjust="spacingAndGlyphs" class="lg" fill="#000">DIFF:0.385</text>
<text x="236" y="719" textLength="56.5" lengthAdjust="spacingAndGlyphs" class="lg" fill="#000080">DEA:0.390</text>
<text x="301" y="719" textLength="75" lengthAdjust="spacingAndGlyphs" class="lg" fill="#ff00ff">MACD:-0.011</text>
<g><circle cx="22" cy="711.7" r="3.6" fill="none" stroke="#000" stroke-width="1"/><circle cx="22" cy="711.7" r="1.9" fill="#ff0000"/>
<line x1="27.3" y1="711.7" x2="29.2" y2="711.7" stroke="#ff0000" stroke-width="1.300"/>
<line x1="25.7" y1="715.4" x2="27.1" y2="716.8" stroke="#ff0000" stroke-width="1.300"/>
<line x1="22.0" y1="717.0" x2="22.0" y2="718.9" stroke="#ff0000" stroke-width="1.300"/>
<line x1="18.3" y1="715.4" x2="16.9" y2="716.8" stroke="#ff0000" stroke-width="1.300"/>
<line x1="16.7" y1="711.7" x2="14.8" y2="711.7" stroke="#ff0000" stroke-width="1.300"/>
<line x1="18.3" y1="708.0" x2="16.9" y2="706.6" stroke="#ff0000" stroke-width="1.300"/>
<line x1="22.0" y1="706.4" x2="22.0" y2="704.5" stroke="#ff0000" stroke-width="1.300"/>
<line x1="25.7" y1="708.0" x2="27.1" y2="706.6" stroke="#ff0000" stroke-width="1.300"/>
</g>
<line x1="227.5" x2="227.5" y1="925" y2="929" stroke="#dfe5ee" shape-rendering="crispEdges"/>
<text x="229.5" y="937" class="dt">2025/08</text>
<line x1="374.5" x2="374.5" y1="925" y2="929" stroke="#dfe5ee" shape-rendering="crispEdges"/>
<text x="376.5" y="937" class="dt">2025/09</text>
<line x1="528.5" x2="528.5" y1="925" y2="929" stroke="#dfe5ee" shape-rendering="crispEdges"/>
<text x="530.5" y="937" class="dt">2025/10</text>
<line x1="689.5" x2="689.5" y1="925" y2="929" stroke="#dfe5ee" shape-rendering="crispEdges"/>
<text x="691.5" y="937" class="dt">2025/11</text>
<rect x="12.5" y="924.5" width="70" height="19" fill="#fff" stroke="#dfe5ee" shape-rendering="crispEdges"/>
<text x="27.5" y="939.5" class="cj" font-size="12" font-weight="bold" fill="#ff6600">日线</text>
<path d="M57.300 939.300l4.400-7.800 4.400 7.800z" fill="#ff6600"/>
<text x="745.6" y="937.7" class="wm" fill="#a88c72" opacity=".85" transform="translate(1 1)">FX678</text>
<text x="745.6" y="937.7" class="wm" fill="#d3e2f5">FX678</text>
<rect x="0" y="944" width="875" height="19" fill="#fff"/>
<rect x="0" y="960" width="875" height="3" fill="#ececec"/>
<line x1="0" x2="875" y1="960" y2="960" stroke="#c4c8cc" stroke-width="1.4"/>
<line x1="13" x2="875" y1="944.5" y2="944.5" stroke="#b8c4d2" shape-rendering="crispEdges"/>
<rect x="13" y="944" width="39.5" height="15.5" fill="#ff6600"/>
<line x1="52.5" x2="52.5" y1="945" y2="960" stroke="#c9d2dc" shape-rendering="crispEdges"/>
<line x1="92.5" x2="92.5" y1="945" y2="960" stroke="#c9d2dc" shape-rendering="crispEdges"/>
<line x1="149.5" x2="149.5" y1="945" y2="960" stroke="#c9d2dc" shape-rendering="crispEdges"/>
<line x1="178.5" x2="178.5" y1="945" y2="960" stroke="#c9d2dc" shape-rendering="crispEdges"/>
<line x1="218.5" x2="218.5" y1="945" y2="960" stroke="#c9d2dc" shape-rendering="crispEdges"/>
<line x1="258.5" x2="258.5" y1="945" y2="960" stroke="#c9d2dc" shape-rendering="crispEdges"/>
<line x1="292.5" x2="292.5" y1="945" y2="960" stroke="#c9d2dc" shape-rendering="crispEdges"/>
<line x1="332.5" x2="332.5" y1="945" y2="960" stroke="#c9d2dc" shape-rendering="crispEdges"/>
<line x1="366.5" x2="366.5" y1="945" y2="960" stroke="#c9d2dc" shape-rendering="crispEdges"/>
<line x1="399.5" x2="399.5" y1="945" y2="960" stroke="#c9d2dc" shape-rendering="crispEdges"/>
<line x1="441.5" x2="441.5" y1="945" y2="960" stroke="#c9d2dc" shape-rendering="crispEdges"/>
<line x1="474.5" x2="474.5" y1="945" y2="960" stroke="#c9d2dc" shape-rendering="crispEdges"/>
<line x1="502.5" x2="502.5" y1="945" y2="960" stroke="#c9d2dc" shape-rendering="crispEdges"/>
<line x1="535.5" x2="535.5" y1="945" y2="960" stroke="#c9d2dc" shape-rendering="crispEdges"/>
<line x1="576.5" x2="576.5" y1="945" y2="960" stroke="#c9d2dc" shape-rendering="crispEdges"/>
<text x="21" y="956.3" class="cs" font-size="11.7" fill="#fff">指标</text>
<text x="60.8" y="956.3" class="cs" font-size="11.7" fill="#000">模板</text>
<text x="100.5" y="956.5" class="tb" fill="#ff6600" textLength="18" lengthAdjust="spacingAndGlyphs">VIP</text>
<text x="119.8" y="956.3" class="cs" font-size="11.7" fill="#ff6600">指标</text>
<text x="159" y="956.5" class="tb" fill="#000" textLength="12" lengthAdjust="spacingAndGlyphs">MA</text>
<text x="187" y="956.5" class="tb" fill="#000" textLength="23.5" lengthAdjust="spacingAndGlyphs">MACD</text>
<text x="227" y="956.5" class="tb" fill="#000" textLength="23.5" lengthAdjust="spacingAndGlyphs">BOLL</text>
<text x="267" y="956.5" class="tb" fill="#000" textLength="17.5" lengthAdjust="spacingAndGlyphs">VOL</text>
<text x="301" y="956.5" class="tb" fill="#000" textLength="23.5" lengthAdjust="spacingAndGlyphs">BIAS</text>
<text x="340.5" y="956.5" class="tb" fill="#000" textLength="17.5" lengthAdjust="spacingAndGlyphs">CCI</text>
<text x="371" y="956.5" class="tb" fill="#000" textLength="17.5" lengthAdjust="spacingAndGlyphs">KDJ</text>
<text x="408.5" y="956.5" class="tb" fill="#000" textLength="17.5" lengthAdjust="spacingAndGlyphs">LW&amp;</text>
<text x="448.5" y="956.5" class="tb" fill="#000" textLength="17.5" lengthAdjust="spacingAndGlyphs">RSI</text>
<text x="483" y="956.5" class="tb" fill="#000" textLength="11.5" lengthAdjust="spacingAndGlyphs">CR</text>
<text x="510.5" y="956.5" class="tb" fill="#000" textLength="17.5" lengthAdjust="spacingAndGlyphs">PSY</text>
<text x="544.7" y="956.3" class="cs" font-size="11.7" fill="#000">设置</text>
<rect x="0" y="23" width="13" height="213" fill="#dfdfe9"/>
<rect x="0" y="74" width="12" height="46" fill="#ff6600"/>
<line x1="0" x2="13" y1="172.500" y2="172.500" stroke="#cdd3de" shape-rendering="crispEdges"/>
<line x1="0" x2="13" y1="236.500" y2="236.500" stroke="#cdd3de" shape-rendering="crispEdges"/>
<g clip-path="url(#sbc)">
<text x="-4.2" y="41.5" class="cs" font-size="13" fill="#222" stroke="#222" stroke-width="0.25">分</text>
<text x="-4.2" y="55" class="cs" font-size="13" fill="#222" stroke="#222" stroke-width="0.25">时</text>
<text x="-4.2" y="68.5" class="cs" font-size="13" fill="#222" stroke="#222" stroke-width="0.25">图</text>
<text x="-1" y="88.700" class="kk" fill="#fff">K</text>
<text x="-4.2" y="104.4" class="cs" font-size="13" fill="#fff" stroke="#fff" stroke-width="0.45">线</text>
<text x="-4.2" y="117.7" class="cs" font-size="13" fill="#fff" stroke="#fff" stroke-width="0.45">图</text>
<text x="-4.2" y="138.5" class="cs" font-size="13" fill="#222" stroke="#222" stroke-width="0.25">闪</text>
<text x="-4.2" y="152.6" class="cs" font-size="13" fill="#222" stroke="#222" stroke-width="0.25">电</text>
<text x="-4.2" y="167" class="cs" font-size="13" fill="#222" stroke="#222" stroke-width="0.25">图</text>
<text x="-4.2" y="191" class="cs" font-size="13" fill="#222" stroke="#222" stroke-width="0.25">合</text>
<text x="-4.2" y="205" class="cs" font-size="13" fill="#222" stroke="#222" stroke-width="0.25">约</text>
<text x="-4.2" y="219.8" class="cs" font-size="13" fill="#222" stroke="#222" stroke-width="0.25">资</text>
<text x="-4.2" y="233.5" class="cs" font-size="13" fill="#222" stroke="#222" stroke-width="0.25">料</text>
</g>
<rect x="0" y="0" width="875" height="22" fill="#ededf4"/>
<line x1="0" x2="875" y1="22.5" y2="22.5" stroke="#d9d9e3" shape-rendering="crispEdges"/>
<line x1="64.5" x2="64.5" y1="0" y2="22" stroke="#d6d6de" shape-rendering="crispEdges"/>
<line x1="65.5" x2="65.5" y1="0" y2="22" stroke="#fafafc" shape-rendering="crispEdges"/>
<line x1="135.5" x2="135.5" y1="0" y2="22" stroke="#d6d6de" shape-rendering="crispEdges"/>
<line x1="136.5" x2="136.5" y1="0" y2="22" stroke="#fafafc" shape-rendering="crispEdges"/>
<line x1="202.5" x2="202.5" y1="0" y2="22" stroke="#d6d6de" shape-rendering="crispEdges"/>
<line x1="203.5" x2="203.5" y1="0" y2="22" stroke="#fafafc" shape-rendering="crispEdges"/>
<line x1="249.5" x2="249.5" y1="0" y2="22" stroke="#d6d6de" shape-rendering="crispEdges"/>
<line x1="250.5" x2="250.5" y1="0" y2="22" stroke="#fafafc" shape-rendering="crispEdges"/>
<line x1="296.5" x2="296.5" y1="0" y2="22" stroke="#d6d6de" shape-rendering="crispEdges"/>
<line x1="297.5" x2="297.5" y1="0" y2="22" stroke="#fafafc" shape-rendering="crispEdges"/>
<line x1="343.5" x2="343.5" y1="0" y2="22" stroke="#d6d6de" shape-rendering="crispEdges"/>
<line x1="344.5" x2="344.5" y1="0" y2="22" stroke="#fafafc" shape-rendering="crispEdges"/>
<line x1="390.5" x2="390.5" y1="0" y2="22" stroke="#d6d6de" shape-rendering="crispEdges"/>
<line x1="391.5" x2="391.5" y1="0" y2="22" stroke="#fafafc" shape-rendering="crispEdges"/>
<line x1="418.5" x2="418.5" y1="0" y2="22" stroke="#d6d6de" shape-rendering="crispEdges"/>
<line x1="419.5" x2="419.5" y1="0" y2="22" stroke="#fafafc" shape-rendering="crispEdges"/>
<line x1="446.5" x2="446.5" y1="0" y2="22" stroke="#d6d6de" shape-rendering="crispEdges"/>
<line x1="447.5" x2="447.5" y1="0" y2="22" stroke="#fafafc" shape-rendering="crispEdges"/>
<line x1="474.5" x2="474.5" y1="0" y2="22" stroke="#d6d6de" shape-rendering="crispEdges"/>
<line x1="475.5" x2="475.5" y1="0" y2="22" stroke="#fafafc" shape-rendering="crispEdges"/>
<line x1="502.5" x2="502.5" y1="0" y2="22" stroke="#d6d6de" shape-rendering="crispEdges"/>
<line x1="503.5" x2="503.5" y1="0" y2="22" stroke="#fafafc" shape-rendering="crispEdges"/>
<line x1="530.5" x2="530.5" y1="0" y2="22" stroke="#d6d6de" shape-rendering="crispEdges"/>
<line x1="531.5" x2="531.5" y1="0" y2="22" stroke="#fafafc" shape-rendering="crispEdges"/>
<line x1="558.5" x2="558.5" y1="0" y2="22" stroke="#d6d6de" shape-rendering="crispEdges"/>
<line x1="559.5" x2="559.5" y1="0" y2="22" stroke="#fafafc" shape-rendering="crispEdges"/>
<line x1="586.5" x2="586.5" y1="0" y2="22" stroke="#d6d6de" shape-rendering="crispEdges"/>
<line x1="587.5" x2="587.5" y1="0" y2="22" stroke="#fafafc" shape-rendering="crispEdges"/>
<line x1="614.5" x2="614.5" y1="0" y2="22" stroke="#d6d6de" shape-rendering="crispEdges"/>
<line x1="615.5" x2="615.5" y1="0" y2="22" stroke="#fafafc" shape-rendering="crispEdges"/>
<line x1="642.5" x2="642.5" y1="0" y2="22" stroke="#d6d6de" shape-rendering="crispEdges"/>
<line x1="643.5" x2="643.5" y1="0" y2="22" stroke="#fafafc" shape-rendering="crispEdges"/>
<line x1="670.5" x2="670.5" y1="0" y2="22" stroke="#d6d6de" shape-rendering="crispEdges"/>
<line x1="671.5" x2="671.5" y1="0" y2="22" stroke="#fafafc" shape-rendering="crispEdges"/>
<line x1="740.5" x2="740.5" y1="0" y2="22" stroke="#d6d6de" shape-rendering="crispEdges"/>
<line x1="741.5" x2="741.5" y1="0" y2="22" stroke="#fafafc" shape-rendering="crispEdges"/>
<line x1="769.5" x2="769.5" y1="0" y2="22" stroke="#d6d6de" shape-rendering="crispEdges"/>
<line x1="770.5" x2="770.5" y1="0" y2="22" stroke="#fafafc" shape-rendering="crispEdges"/>
<line x1="816.5" x2="816.5" y1="0" y2="22" stroke="#d6d6de" shape-rendering="crispEdges"/>
<line x1="817.5" x2="817.5" y1="0" y2="22" stroke="#fafafc" shape-rendering="crispEdges"/>
<line x1="862.5" x2="862.5" y1="0" y2="22" stroke="#d6d6de" shape-rendering="crispEdges"/>
<line x1="863.5" x2="863.5" y1="0" y2="22" stroke="#fafafc" shape-rendering="crispEdges"/>
<path d="M8 9l6-5v3c5 0 7 3 7 7c-1.5-2.500-3.500-3.500-7-3.500v3.500z" fill="#40444f"/>
<text x="23.2" y="15" class="cj" font-size="12.5" fill="#40444f">返回</text>
<path d="M84.500 3.500l7.500 7h-2v5h-3.800v-4h-3.400v4h-3.800v-5h-2z" fill="#40444f"/>
<text x="94.4" y="15" class="cj" font-size="12.5" fill="#40444f">首页</text>
<path d="M172.700 14.600A6.200 6.200 0 1 1 174.700 9.200" fill="none" stroke="#40444f" stroke-width="1.600"/><path d="M171.800 8.200h6.400l-3.200 4.800z" fill="#40444f"/>
<g fill="#40444f"><path d="M216.500 16.500v-4l3-2.200v6.200zM221 16.500v-7.500l1.500-1.200 1.500 1.200v7.500zM225.500 16.500v-6l3-2.500v8.500zM230 16.500v-9.500l3-2.700v12.200z"/><path d="M216.500 10l6-5.200 4 3.600 7-6" stroke="#40444f" fill="none" stroke-width="1.500"/></g>
<g fill="#40444f"><rect x="262" y="8" width="3" height="4" rx="1"/><rect x="263" y="5" width="1" height="10"/><rect x="267.500" y="5" width="3" height="8" rx="1"/><rect x="268.500" y="3" width="1" height="13"/><rect x="273" y="8" width="3" height="6" rx="1"/><rect x="274" y="5" width="1" height="11"/><rect x="278.500" y="7" width="3" height="5" rx="1"/><rect x="279.500" y="4" width="1" height="11"/></g>
<text x="305.5" y="14.8" class="tl" font-size="15" fill="#40444f" textLength="26.5" lengthAdjust="spacingAndGlyphs">tick</text>
<text x="356.300" y="14.3" class="tl" font-size="13.5" fill="#40444f" textLength="7.5" lengthAdjust="spacingAndGlyphs">5</text>
<text x="364.3" y="15" class="cj" font-size="12.5" fill="#40444f">日</text>
<text x="400.300" y="14.3" class="tl" font-size="13.5" fill="#40444f" textLength="7.5" lengthAdjust="spacingAndGlyphs">5</text>
<text x="424.5" y="14.3" class="tl" font-size="13.5" fill="#40444f" textLength="14.5" lengthAdjust="spacingAndGlyphs">15</text>
<text x="452.300" y="14.3" class="tl" font-size="13.5" fill="#40444f" textLength="14.5" lengthAdjust="spacingAndGlyphs">30</text>
<text x="480" y="14.3" class="tl" font-size="13.5" fill="#40444f" textLength="14.5" lengthAdjust="spacingAndGlyphs">60</text>
<text x="507" y="14.3" class="tl" font-size="13.5" fill="#40444f" textLength="17" lengthAdjust="spacingAndGlyphs">2H</text>
<text x="535" y="14.3" class="tl" font-size="13.5" fill="#40444f" textLength="17" lengthAdjust="spacingAndGlyphs">4H</text>
<text x="564.8" y="15" class="cj" font-size="12.5" fill="#40444f">日</text>
<text x="592.4" y="15" class="cj" font-size="12.5" fill="#40444f">周</text>
<text x="620" y="15" class="cj" font-size="12.5" fill="#40444f">月</text>
<text x="650" y="15" class="cj" font-size="12.5" fill="#40444f">年</text>
<g fill="#40444f"><rect x="684" y="4.500" width="14" height="2.400" rx="1"/><rect x="684" y="9" width="14" height="2.400" rx="1"/><rect x="684" y="13.500" width="14" height="2.400" rx="1"/></g>
<text x="701.3" y="15" class="cj" font-size="12.5" fill="#40444f">更多</text>
<path d="M755 3.600c-3.200-1-4.300 0.800-4.800 3.800l-1.300 7.600c-0.400 2.200-1.600 2.800-3.400 2.200M747.300 8.300h6.200" stroke="#40444f" stroke-width="1.700" fill="none" stroke-linecap="round"/>
<path d="M755.800 9l5.800 5.400M761.600 9l-5.800 5.400" stroke="#40444f" stroke-width="1.800" fill="none"/>
<g fill="none" stroke="#40444f" stroke-width="1.200"><circle cx="792.500" cy="9" r="6.200"/><path d="M797 13.500l3.300 3.500M789.300 9h6.400"/></g>
<g fill="none" stroke="#40444f" stroke-width="1.200"><circle cx="839.700" cy="9" r="6.200"/><path d="M844.200 13.500l3.300 3.500M836.500 9h6.400M839.700 5.800v6.400"/></g>
</svg>
</body></html>
